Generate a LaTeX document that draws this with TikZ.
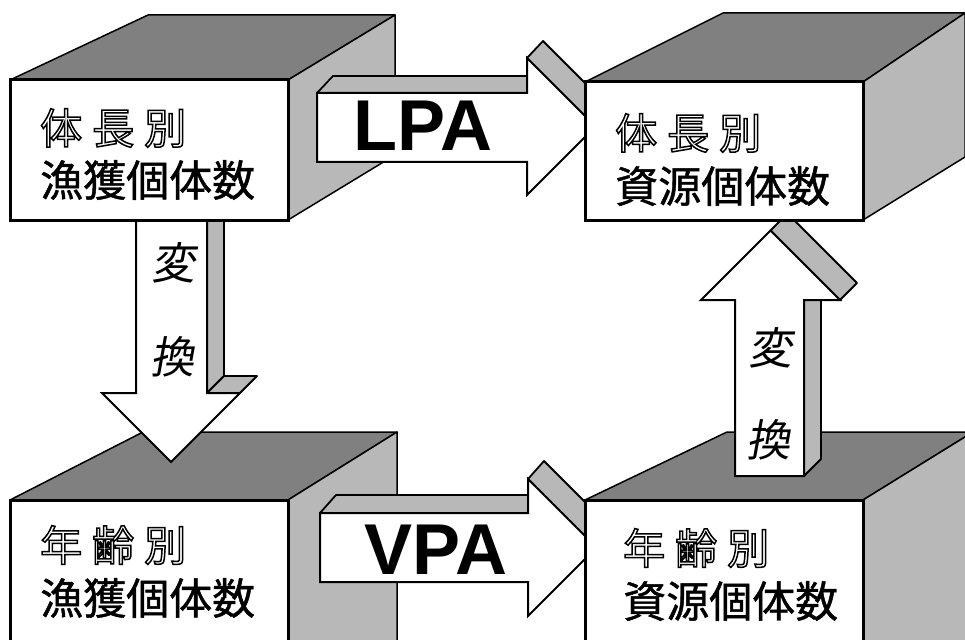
\documentclass[tikz,border=0pt]{standalone}
\usepackage{fontspec}
\newfontfamily\jp{Noto Sans CJK JP}
\newfontfamily\jpsl[FakeSlant=0.18]{Noto Sans CJK JP}
\newfontfamily\lat{Liberation Sans}
\newcommand\hollowtxt[1]{\special{pdf:literal direct 1 Tr 1.5 w}#1\special{pdf:literal direct 0 Tr}}
\newcommand\heavytxt[1]{\special{pdf:literal direct 2 Tr 0.45 w}#1\special{pdf:literal direct 0 Tr}}
\begin{document}
\begin{tikzpicture}[x=1pt,y=-1pt,
  topface/.style={fill=black!50,draw=black,line width=1.5pt,line join=round},
  sideface/.style={fill=black!28,draw=black,line width=1.5pt,line join=round},
  frontface/.style={fill=white,draw=black,line width=3pt},
  band/.style={fill=black!28,draw=black,line width=1.8pt,line join=round},
  arrowbody/.style={fill=white,draw=black,line width=2pt,line join=miter},
  head/.style={anchor=west,inner sep=0pt,font=\jp\fontsize{42}{42}\selectfont},
  body/.style={anchor=west,inner sep=0pt,font=\jp\fontsize{43}{43}\selectfont},
  bigtxt/.style={inner sep=0pt,font=\lat\bfseries\fontsize{72}{72}\selectfont},
  conv/.style={inner sep=0pt,font=\jpsl\fontsize{44}{44}\selectfont}]
\useasboundingbox (0,0) rectangle (965,639);
\clip (0,0) rectangle (965,639);

% ---- box 3 (bottom-left)
\draw[topface] (10,500) -- (143,432) -- (397,432) -- (288,500) -- cycle;
\draw[sideface] (288,500) -- (397,432) -- (397,660) -- (288,660) -- cycle;
\draw[frontface] (10,500) rectangle (288,660);
\node[head] (t3a) at (40,545) {\hollowtxt{年\hspace{10pt}齢\hspace{10pt}別}};
\node[body] (t3b) at (40,598) {\heavytxt{漁獲個体数}};

% ---- VPA arrow
\draw[band] (320,513) -- (528,513) -- (544,495) -- (336,495) -- cycle;
\draw[band] (528,479) -- (596.5,547.5) -- (612.5,529.5) -- (544,461) -- cycle;
\draw[arrowbody] (320,513) -- (528,513) -- (528,479) -- (596.5,547.5) -- (528,616) -- (528,582) -- (320,582) -- cycle;
\node[bigtxt] (vpa) at (436,550) {VPA};

% ---- box 4 (bottom-right)
\draw[topface] (585,500) -- (727,432) -- (973,432) -- (863,500) -- cycle;
\draw[sideface] (863,500) -- (973,432) -- (973,660) -- (863,660) -- cycle;
\draw[frontface] (585,500) rectangle (863,660);
\node[head] (t4a) at (623,548) {\hollowtxt{年\hspace{10pt}齢\hspace{10pt}別}};
\node[body] (t4b) at (623,601) {\heavytxt{資源個体数}};

% ---- down arrow (left)
\draw[band] (207,200) -- (207,393) -- (224,376) -- (224,183) -- cycle;
\draw[band] (207,393) -- (240,393) -- (257,376) -- (224,376) -- cycle;
\draw[arrowbody] (136,200) -- (136,393) -- (102,393) -- (171,462) -- (240,393) -- (207,393) -- (207,200) -- cycle;
\node[conv] (cd1) at (173,263) {変};
\node[conv] (cd2) at (172,357) {換};

% ---- up arrow (right)
\draw[band] (804,476) -- (804,300) -- (821,283) -- (821,459) -- cycle;
\draw[band] (840,300) -- (770.5,230.5) -- (787.5,213.5) -- (857,283) -- cycle;
\draw[arrowbody] (735,476) -- (735,300) -- (701,300) -- (770.5,230.5) -- (840,300) -- (804,300) -- (804,476) -- cycle;
\node[conv] (cu1) at (770,348) {変};
\node[conv] (cu2) at (768,440) {換};

% ---- box 1 (top-left)
\draw[topface] (10,80) -- (148,15) -- (395,15) -- (288,80) -- cycle;
\draw[sideface] (288,80) -- (395,15) -- (395,155) -- (288,220) -- cycle;
\draw[frontface] (10,80) rectangle (288,220);
\node[head] (t1a) at (40,128) {\hollowtxt{体\hspace{10pt}長\hspace{10pt}別}};
\node[body] (t1b) at (40,180) {\heavytxt{漁獲個体数}};

% ---- LPA arrow
\draw[band] (317,93) -- (527,93) -- (543,76) -- (333,76) -- cycle;
\draw[band] (527,58) -- (595.5,126.5) -- (611.5,109.5) -- (543,41) -- cycle;
\draw[arrowbody] (317,93) -- (527,93) -- (527,58) -- (595.5,126.5) -- (527,195) -- (527,162) -- (317,162) -- cycle;
\node[bigtxt] (lpa) at (423,126) {LPA};

% ---- box 2 (top-right)
\draw[topface] (585,82) -- (723,13) -- (965,13) -- (863,82) -- cycle;
\draw[sideface] (863,82) -- (965,13) -- (965,157) -- (863,220) -- cycle;
\draw[frontface] (585,82) rectangle (863,220);
\node[head] (t2a) at (615,133) {\hollowtxt{体\hspace{10pt}長\hspace{10pt}別}};
\node[body] (t2b) at (615,186) {\heavytxt{資源個体数}};
\end{tikzpicture}
\end{document}
